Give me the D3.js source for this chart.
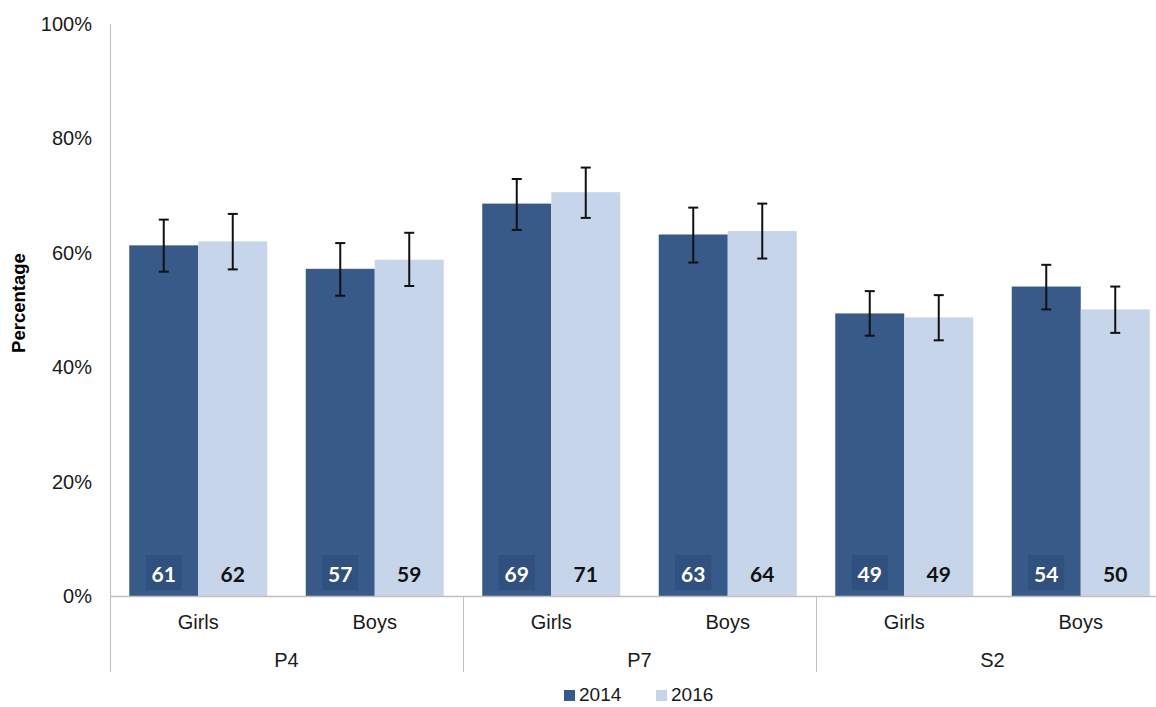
<!DOCTYPE html>
<html>
<head>
<meta charset="utf-8">
<script src="https://cdn.jsdelivr.net/npm/d3@7"></script>
<style>
  html, body { margin: 0; padding: 0; background: #fff; }
  svg { display: block; }
</style>
</head>
<body>
<svg id="chart" width="1156" height="707"></svg>
<script>
// ---- data ----
const stages = ["P4", "P7", "S2"];
const genders = ["Girls", "Boys"];
const years = ["2014", "2016"];
const values2014 = [61.3, 57.2, 68.6, 63.2, 49.4, 54.1];
const values2016 = [62.0, 58.8, 70.6, 63.8, 48.7, 50.1];
const labels2014 = [61, 57, 69, 63, 49, 54];
const labels2016 = [62, 59, 71, 64, 49, 50];
const ciLow2014  = [56.7, 52.5, 64.0, 58.3, 45.5, 50.1];
const ciHigh2014 = [65.8, 61.7, 72.9, 67.9, 53.3, 57.9];
const ciLow2016  = [57.1, 54.2, 66.1, 59.0, 44.7, 46.0];
const ciHigh2016 = [66.8, 63.5, 74.9, 68.6, 52.6, 54.1];
const yTicks = [0, 20, 40, 60, 80, 100];

const colors = { "2014": "#375a88", "2016": "#c7d5ea" };
const labelBox = "#30507d";

(function () {
// ---- build rows ----
const rows = [];
stages.forEach((s, si) => {
  genders.forEach((g, gi) => {
    const i = si * 2 + gi;
    rows.push({ stage: s, gender: g, year: "2014", v: values2014[i], lab: labels2014[i], lo: ciLow2014[i], hi: ciHigh2014[i] });
    rows.push({ stage: s, gender: g, year: "2016", v: values2016[i], lab: labels2016[i], lo: ciLow2016[i], hi: ciHigh2016[i] });
  });
});

const svg = d3.select("#chart");
const plotLeft = 110, groupW = 353, plotBottom = 596, plotTop = 24;

const x0 = d3.scaleBand().domain(stages).range([plotLeft, plotLeft + groupW * 3]).padding(0);
const x1 = d3.scaleBand().domain(genders).range([0, x0.bandwidth()]).padding(0);
const x2 = d3.scaleBand().domain(years).range([0, x1.bandwidth()]).paddingInner(0).paddingOuter(0.279);
const y = d3.scaleLinear().domain([0, 100]).range([plotBottom, plotTop]);

const xPos = d => x0(d.stage) + x1(d.gender) + x2(d.year);

// bars
svg.append("g").selectAll("rect").data(rows).join("rect")
  .attr("x", xPos)
  .attr("y", d => y(d.v))
  .attr("width", x2.bandwidth())
  .attr("height", d => y(0) - y(d.v))
  .attr("fill", d => colors[d.year]);

// error bars
const eb = svg.append("g").attr("stroke", "#111").attr("stroke-width", 2);
rows.forEach(d => {
  const cx = xPos(d) + x2.bandwidth() / 2;
  eb.append("line").attr("x1", cx).attr("x2", cx).attr("y1", y(d.hi)).attr("y2", y(d.lo));
  eb.append("line").attr("x1", cx - 5).attr("x2", cx + 5).attr("y1", y(d.hi)).attr("y2", y(d.hi));
  eb.append("line").attr("x1", cx - 5).attr("x2", cx + 5).attr("y1", y(d.lo)).attr("y2", y(d.lo));
});

// value labels
const lg = svg.append("g");
rows.forEach(d => {
  const cx = xPos(d) + x2.bandwidth() / 2;
  if (d.year === "2014") {
    lg.append("rect").attr("x", cx - 18).attr("y", 555).attr("width", 36).attr("height", 35).attr("fill", labelBox);
  }
  lg.append("text")
    .attr("x", cx).attr("y", 581.5)
    .attr("text-anchor", "middle")
    .attr("font-family", "Lato, 'Open Sans', sans-serif")
    .attr("font-weight", "bold")
    .attr("font-size", 21)
    .attr("fill", d.year === "2014" ? "#ffffff" : "#111111")
    .text(d.lab);
});

// y axis
const yAxis = svg.append("g").attr("transform", `translate(${plotLeft},0)`)
  .call(d3.axisLeft(y).tickValues(yTicks).tickSize(0).tickPadding(18).tickFormat(d => d + "%"));
yAxis.select(".domain").remove();
yAxis.selectAll("text")
  .attr("font-family", "Arial, 'Liberation Sans', sans-serif")
  .attr("font-size", 20)
  .attr("fill", "#1a1a1a");

// axis lines
const axisColor = "#bfbfbf";
svg.append("line").attr("x1", plotLeft + 0.5).attr("x2", plotLeft + 0.5).attr("y1", y(100)).attr("y2", 672)
  .attr("stroke", axisColor).attr("stroke-width", 1);
svg.append("line").attr("x1", plotLeft).attr("x2", 1156).attr("y1", plotBottom + 0.5).attr("y2", plotBottom + 0.5)
  .attr("stroke", axisColor).attr("stroke-width", 1.5);
stages.slice(1).forEach(s => {
  svg.append("line").attr("x1", x0(s) + 0.5).attr("x2", x0(s) + 0.5).attr("y1", plotBottom).attr("y2", 672)
    .attr("stroke", axisColor).attr("stroke-width", 1);
});

// x labels
const xl = svg.append("g")
  .attr("font-family", "Arial, 'Liberation Sans', sans-serif")
  .attr("font-size", 20).attr("fill", "#1a1a1a").attr("text-anchor", "middle");
stages.forEach(s => {
  genders.forEach(g => {
    xl.append("text").attr("x", x0(s) + x1(g) + x1.bandwidth() / 2).attr("y", 629).text(g);
  });
  xl.append("text").attr("x", x0(s) + x0.bandwidth() / 2).attr("y", 667).text(s);
});

// y title
svg.append("text")
  .attr("transform", "translate(25,303) rotate(-90)")
  .attr("text-anchor", "middle")
  .attr("font-family", "Arial, 'Liberation Sans', sans-serif")
  .attr("font-weight", "bold")
  .attr("font-size", 18.5)
  .attr("fill", "#000")
  .text("Percentage");

// legend
const legend = svg.append("g")
  .attr("font-family", "Arial, 'Liberation Sans', sans-serif")
  .attr("font-size", 19).attr("fill", "#1a1a1a");
const legX = [564, 656];
years.forEach((yr, i) => {
  legend.append("rect").attr("x", legX[i]).attr("y", 690).attr("width", 11).attr("height", 11).attr("fill", colors[yr]);
  legend.append("text").attr("x", legX[i] + 15).attr("y", 701).text(yr);
});
})();
</script>
</body>
</html>
